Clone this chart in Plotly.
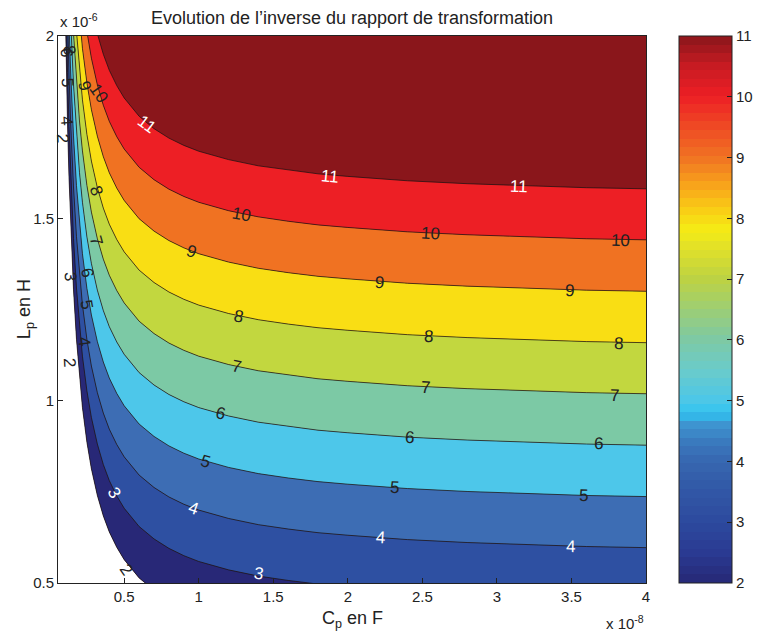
import numpy as np
import plotly.graph_objects as go

# ---------------- data ----------------
# Cp in units of 1e-8 F
CP = [0.056, 0.07, 0.08, 0.09, 0.10, 0.11, 0.12, 0.13, 0.14, 0.16, 0.18, 0.20,
      0.22, 0.25, 0.28, 0.32, 0.36, 0.40, 0.45, 0.50, 0.60, 0.70, 0.80, 0.90,
      1.0, 1.2, 1.4, 1.6, 1.8, 2.0, 2.4, 2.8, 3.2, 3.6, 4.0]

LEVELS = [2, 3, 4, 5, 6, 7, 8, 9, 10, 11]

# Lp (units of 1e-6 H) along each iso-level line, at the CP abscissae
LP_2 = [5.396, 3.606, 2.941, 2.498, 2.181, 1.944, 1.759, 1.611, 1.490, 1.304, 1.168, 1.063,
        0.981, 0.886, 0.813, 0.740, 0.684, 0.640, 0.598, 0.564, 0.514, 0.480, 0.454, 0.434,
        0.418, 0.395, 0.378, 0.366, 0.356, 0.349, 0.337, 0.329, 0.323, 0.318, 0.315]
LP_3 = [5.537, 3.747, 3.082, 2.639, 2.322, 2.085, 1.900, 1.752, 1.631, 1.445, 1.309, 1.204,
        1.122, 1.027, 0.954, 0.881, 0.825, 0.781, 0.739, 0.705, 0.655, 0.621, 0.595, 0.575,
        0.559, 0.536, 0.519, 0.507, 0.497, 0.490, 0.478, 0.470, 0.464, 0.459, 0.456]
LP_4 = [5.678, 3.888, 3.223, 2.780, 2.463, 2.226, 2.041, 1.893, 1.772, 1.586, 1.450, 1.345,
        1.263, 1.168, 1.095, 1.022, 0.966, 0.922, 0.880, 0.846, 0.796, 0.762, 0.736, 0.716,
        0.700, 0.677, 0.660, 0.648, 0.638, 0.631, 0.619, 0.611, 0.605, 0.600, 0.597]
LP_5 = [5.818, 4.028, 3.363, 2.920, 2.603, 2.366, 2.181, 2.033, 1.912, 1.726, 1.590, 1.485,
        1.403, 1.308, 1.235, 1.162, 1.106, 1.062, 1.020, 0.986, 0.936, 0.902, 0.876, 0.856,
        0.840, 0.817, 0.800, 0.788, 0.778, 0.771, 0.759, 0.751, 0.745, 0.740, 0.737]
LP_6 = [5.959, 4.169, 3.504, 3.061, 2.744, 2.507, 2.322, 2.174, 2.053, 1.867, 1.731, 1.626,
        1.544, 1.449, 1.376, 1.303, 1.247, 1.203, 1.161, 1.127, 1.077, 1.043, 1.017, 0.997,
        0.981, 0.958, 0.941, 0.929, 0.919, 0.912, 0.900, 0.892, 0.886, 0.881, 0.878]
LP_7 = [6.100, 4.310, 3.645, 3.202, 2.885, 2.648, 2.463, 2.315, 2.194, 2.008, 1.872, 1.767,
        1.685, 1.590, 1.517, 1.444, 1.388, 1.344, 1.302, 1.268, 1.218, 1.184, 1.158, 1.138,
        1.122, 1.099, 1.082, 1.070, 1.060, 1.053, 1.041, 1.033, 1.027, 1.022, 1.019]
LP_8 = [6.240, 4.450, 3.785, 3.342, 3.025, 2.788, 2.603, 2.455, 2.334, 2.148, 2.012, 1.907,
        1.825, 1.730, 1.657, 1.584, 1.528, 1.484, 1.442, 1.408, 1.358, 1.324, 1.298, 1.278,
        1.262, 1.239, 1.222, 1.210, 1.200, 1.193, 1.181, 1.173, 1.167, 1.162, 1.159]
LP_9 = [6.381, 4.591, 3.926, 3.483, 3.166, 2.929, 2.744, 2.596, 2.475, 2.289, 2.153, 2.048,
        1.966, 1.871, 1.798, 1.725, 1.669, 1.625, 1.583, 1.549, 1.499, 1.465, 1.439, 1.419,
        1.403, 1.380, 1.363, 1.351, 1.341, 1.334, 1.322, 1.314, 1.308, 1.303, 1.300]
LP_10 = [6.522, 4.732, 4.067, 3.624, 3.307, 3.070, 2.885, 2.737, 2.616, 2.430, 2.294, 2.189,
         2.107, 2.012, 1.939, 1.866, 1.810, 1.766, 1.724, 1.690, 1.640, 1.606, 1.580, 1.560,
         1.544, 1.521, 1.504, 1.492, 1.482, 1.475, 1.463, 1.455, 1.449, 1.444, 1.441]
LP_11 = [6.662, 4.872, 4.207, 3.764, 3.447, 3.210, 3.025, 2.877, 2.756, 2.570, 2.434, 2.329,
         2.247, 2.152, 2.079, 2.006, 1.950, 1.906, 1.864, 1.830, 1.780, 1.746, 1.720, 1.700,
         1.684, 1.661, 1.644, 1.632, 1.622, 1.615, 1.603, 1.595, 1.589, 1.584, 1.581]

X_TICKS = [0.5, 1, 1.5, 2, 2.5, 3, 3.5, 4]
X_TICK_TEXT = ["0.5", "1", "1.5", "2", "2.5", "3", "3.5", "4"]
Y_TICKS = [0.5, 1, 1.5, 2]
Y_TICK_TEXT = ["0.5", "1", "1.5", "2"]
CBAR_TICKS = [2, 3, 4, 5, 6, 7, 8, 9, 10, 11]

CURVES = [LP_2, LP_3, LP_4, LP_5, LP_6, LP_7, LP_8, LP_9, LP_10, LP_11]

# ---------------- styles ----------------
FONT = "Liberation Sans, Arial, Helvetica, sans-serif"
# fill colour of each band [k, k+1), k = 2..10 ; region above 11 uses ABOVE_TOP
BAND_COLORS = ["#282877", "#2E50A2", "#3D6DB4", "#4DC7EA", "#7CC9A5",
               "#C2D73F", "#F9DE14", "#F07222", "#ED1F25"]
ABOVE_TOP = "#8A161B"

# colormap anchors (value, colour) for the colorbar
CMAP_ANCHORS = [(2.0, "#272876"), (2.5, "#2A3A92"), (3.0, "#2D4A9E"), (3.5, "#3157A6"),
                (4.0, "#3767B0"), (4.3, "#3A78BD"), (4.6, "#3E94D0"), (4.8, "#30C3F0"),
                (5.0, "#4CC7E8"), (5.5, "#6ACBCB"), (6.0, "#7DC9A5"), (6.5, "#9DCE74"),
                (7.0, "#BDD243"), (7.5, "#E0E02A"), (7.8, "#F4EC15"), (8.1, "#F9D115"),
                (8.5, "#F9A81A"), (9.0, "#F07323"), (9.5, "#EF4A24"), (10.0, "#ED1F25"),
                (10.5, "#C81B22"), (11.0, "#8A161B")]


def hex2rgb(h):
    h = h.lstrip("#")
    return [int(h[i:i + 2], 16) for i in (0, 2, 4)]


def stepped_scale(anchors, n=64):
    vals = np.array([a[0] for a in anchors])
    rgbs = np.array([hex2rgb(a[1]) for a in anchors], dtype=float)
    lo, hi = vals[0], vals[-1]
    scale = []
    for i in range(n):
        v = lo + (i + 0.5) / n * (hi - lo)
        c = [int(round(np.interp(v, vals, rgbs[:, k]))) for k in range(3)]
        col = "rgb(%d,%d,%d)" % tuple(c)
        scale.append([i / n, col])
        scale.append([(i + 1) / n, col])
    return scale


# label placement: (text, Cp, Lp, angle, colour)
LABELS = [
    ("11", 0.653, 1.758, 36, "white"), ("11", 1.88, 1.615, 5, "white"), ("11", 3.147, 1.588, 2, "white"),
    ("10", 0.33, 1.842, 55, "#222"), ("10", 1.287, 1.511, 10, "#222"), ("10", 2.553, 1.459, 3, "#222"),
    ("10", 3.827, 1.440, 1, "#222"),
    ("9", 0.233, 1.864, 75, "#222"), ("9", 0.953, 1.410, 19, "#222"), ("9", 2.213, 1.325, 4, "#222"),
    ("9", 3.487, 1.303, 1, "#222"),
    ("8", 0.313, 1.577, 72, "#222"), ("8", 1.267, 1.2315, 11, "#222"), ("8", 2.54, 1.177, 3, "#222"),
    ("8", 3.813, 1.1575, 1, "#222"), ("8", 0.13, 1.963, 80, "#222"),
    ("7", 0.313, 1.440, 74, "#222"), ("7", 1.253, 1.0945, 11, "#222"), ("7", 2.52, 1.037, 3, "#222"),
    ("7", 3.787, 1.015, 1, "#222"),
    ("6", 0.113, 1.955, 85, "#222"), ("6", 0.253, 1.352, 80, "#222"), ("6", 1.147, 0.966, 13, "#222"),
    ("6", 2.413, 0.900, 3, "#222"), ("6", 3.68, 0.8836, 1, "#222"),
    ("5", 0.12, 1.873, 86, "#222"), ("5", 0.247, 1.264, 80, "#222"), ("5", 1.047, 0.834, 16, "#222"),
    ("5", 2.313, 0.763, 3, "#222"), ("5", 3.58, 0.741, 1, "#222"),
    ("4", 0.113, 1.768, 86, "#222"), ("4", 0.233, 1.163, 82, "#222"), ("4", 0.967, 0.7055, 19, "white"),
    ("4", 2.22, 0.626, 4, "white"), ("4", 3.493, 0.601, 1, "white"),
    ("3", 0.14, 1.341, 86, "#222"), ("3", 0.433, 0.749, 60, "white"), ("3", 1.4, 0.527, 9, "white"),
    ("2", 0.087, 1.719, 88, "#222"), ("2", 0.133, 1.105, 87, "#222"), ("2", 0.513, 0.538, 55, "#222"),
]

fig = go.Figure()

# white below the lowest level
fig.add_trace(go.Scatter(x=CP, y=CURVES[0], mode="lines", line=dict(width=0),
                         fill="tozeroy", fillcolor="white", hoverinfo="skip", showlegend=False))
# bands between consecutive levels
for k in range(1, len(CURVES)):
    fig.add_trace(go.Scatter(x=CP, y=CURVES[k], mode="lines", line=dict(width=0),
                             fill="tonexty", fillcolor=BAND_COLORS[k - 1],
                             hoverinfo="skip", showlegend=False))
# iso-lines
for k in range(len(CURVES)):
    fig.add_trace(go.Scatter(x=CP, y=CURVES[k], mode="lines",
                             line=dict(width=0.7, color="#111"),
                             hoverinfo="skip", showlegend=False))

# colorbar carrier
fig.add_trace(go.Scatter(
    x=[CP[-1]], y=[CURVES[-1][-1]], mode="markers", hoverinfo="skip", showlegend=False,
    marker=dict(size=1, opacity=0, color=[LEVELS[0]], cmin=LEVELS[0], cmax=LEVELS[-1],
                colorscale=stepped_scale(CMAP_ANCHORS), showscale=True,
                colorbar=dict(thickness=53, thicknessmode="pixels", len=547, lenmode="pixels",
                              x=1.0556, xanchor="left", xpad=0, y=0.5, yanchor="middle", ypad=0,
                              outlinewidth=1, outlinecolor="#222",
                              tickvals=CBAR_TICKS, ticktext=[str(t) for t in CBAR_TICKS],
                              ticks="inside", ticklen=5, tickcolor="#222",
                              tickfont=dict(family=FONT, size=15, color="#222")))))

for txt, cx, ly, ang, col in LABELS:
    fig.add_annotation(x=cx, y=ly, xref="x", yref="y", text=txt, showarrow=False,
                       textangle=ang, font=dict(family=FONT, size=17, color=col))

fig.add_annotation(x=-0.078, y=0.5, xref="paper", yref="paper", showarrow=False,
                   text="L<sub>p</sub> en H", textangle=-90,
                   font=dict(family=FONT, size=18, color="#222"))
fig.add_annotation(x=0.5, y=-0.066, xref="paper", yref="paper", showarrow=False,
                   yanchor="middle",
                   text="C<sub>p</sub> en F", font=dict(family=FONT, size=18, color="#222"))
fig.add_annotation(x=0.0, y=1.008, xref="paper", yref="paper", showarrow=False,
                   xanchor="left", yanchor="bottom", text="x 10<sup>-6</sup>",
                   font=dict(family=FONT, size=15, color="#222"))
fig.add_annotation(x=1.0, y=-0.052, xref="paper", yref="paper", showarrow=False,
                   xanchor="right", yanchor="top", text="x 10<sup>-8</sup>",
                   font=dict(family=FONT, size=15, color="#222"))

# the page body adds an 8 px offset: margins compensate so the plot area lands at
# x 58..651, y 36..583 in the browser window
fig.update_layout(
    width=762, height=637,
    margin=dict(l=50, r=119, t=28, b=62),
    paper_bgcolor="white", plot_bgcolor=ABOVE_TOP,
    font=dict(family=FONT, size=15, color="#222"),
    title=dict(text="Evolution de l\u2019inverse du rapport de transformation",
               x=0.5, xref="paper", xanchor="center", y=1 - 10 / 637, yref="container",
               yanchor="middle", font=dict(family=FONT, size=18, color="#222")),
    xaxis=dict(range=[CP[0], CP[-1]], tickvals=X_TICKS, ticktext=X_TICK_TEXT,
               showgrid=False, zeroline=False, showline=True, linecolor="#222", linewidth=1,
               mirror=True, ticks="inside", ticklen=5, tickcolor="#222",
               tickfont=dict(family=FONT, size=15, color="#222")),
    yaxis=dict(range=[Y_TICKS[0], Y_TICKS[-1]], tickvals=Y_TICKS, ticktext=Y_TICK_TEXT,
               showgrid=False, zeroline=False, showline=True, linecolor="#222", linewidth=1,
               mirror=True, ticks="inside", ticklen=5, tickcolor="#222",
               tickfont=dict(family=FONT, size=15, color="#222")),
)

fig.write_html("out.html")
